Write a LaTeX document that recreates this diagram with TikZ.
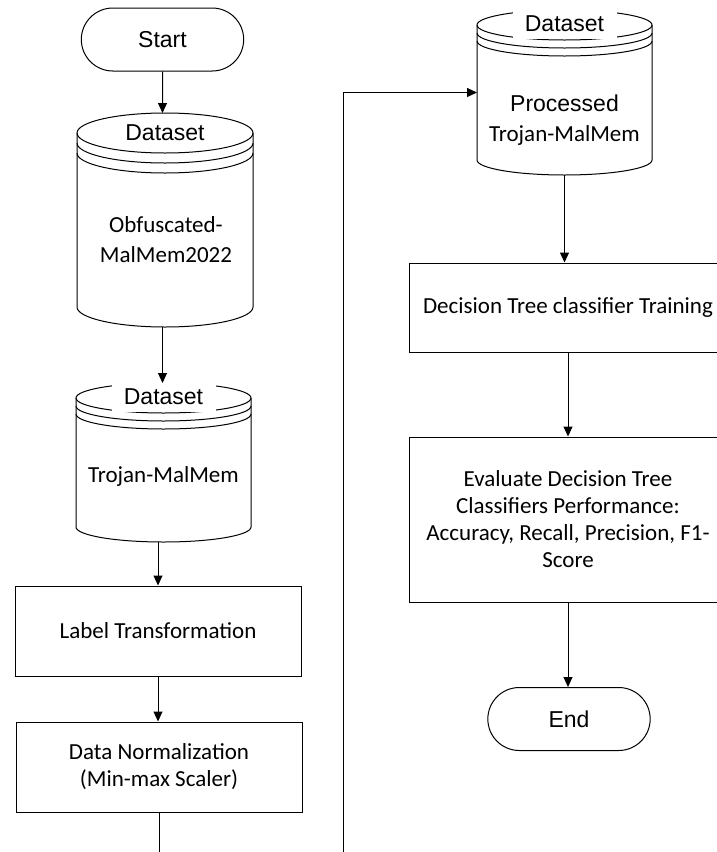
\documentclass[tikz,border=0pt]{standalone}
\usepackage{fontspec}
\setmainfont{Carlito}
\newfontfamily\arialfont{Liberation Sans}
\usetikzlibrary{shapes.misc,arrows.meta,positioning,calc}

\tikzset{
  flowbox/.style={draw, line width=1pt, align=center, inner sep=2pt, font=\fontsize{23}{27}\selectfont},
  termbox/.style={rounded rectangle, draw, line width=1pt, minimum width=169pt, minimum height=63pt, font=\arialfont\fontsize{23}{27}\selectfont},
  dbshape/.style={inner sep=0pt, outer sep=0pt},
  dbtag/.style={font=\arialfont\fontsize{23}{27}\selectfont, inner sep=0pt, minimum width=104pt, minimum height=30pt},
  dbtext/.style={align=center, font=\fontsize{23}{30}\selectfont},
  flowline/.style={line width=1pt, -{Triangle[length=10pt,width=9pt]}},
}

% database cylinder round a named node: node, half width, cap radius, band gap
\newcommand{\dbdraw}[4]{%
  \draw[line width=1pt] ([yshift=-#3]#1.north west) -- ([yshift=#3]#1.south west)
    arc[start angle=180, end angle=360, x radius=#2pt, y radius=#3pt]
    -- ([yshift=-#3]#1.north east)
    arc[start angle=0, end angle=180, x radius=#2pt, y radius=#3pt];
  \draw[line width=1pt] ([yshift=-#3]#1.north west) arc[start angle=180, end angle=360, x radius=#2pt, y radius=#3pt];
  \draw[line width=1pt] ([yshift=-#3-#4]#1.north west) arc[start angle=180, end angle=360, x radius=#2pt, y radius=#3pt];
  \draw[line width=1pt] ([yshift=-#3-2*#4]#1.north west) arc[start angle=180, end angle=360, x radius=#2pt, y radius=#3pt];
}

\begin{document}
\begin{tikzpicture}[x=1pt, y=-1pt]
\useasboundingbox (0,0) rectangle (717,852);
\clip (0,0) rectangle (717,852);

% left column
\node[termbox] (start) at (162.5,39.5) {Start};

\node[dbshape, minimum width=176pt, minimum height=214pt] (obf) at (165,220) {};
\dbdraw{obf}{88}{20}{10}
\node[dbtag] (obftag) at ([yshift=-20]obf.north) {Dataset};
\node[dbtext] (obftxt) at (166,240) {Obfuscated-\\MalMem2022};

\node[dbshape, minimum width=175pt, minimum height=159pt] (troj) at (163.5,462.5) {};
\dbdraw{troj}{87.5}{15}{8}
\node[dbtag, fill=white] (trojtag) at ([yshift=-14]troj.north) {Dataset};
\node[dbtext] (trojtxt) at (163.5,476) {Trojan-MalMem};

\node[flowbox, minimum width=286pt, minimum height=90pt] (labtr) at (158,631) {Label Transformation};
\node[flowbox, minimum width=286pt, minimum height=90pt] (norm) at (159,767) {Data Normalization\\ (Min-max Scaler)};

% right column
\node[dbshape, minimum width=175pt, minimum height=165pt] (proc) at (564.5,92.5) {};
\dbdraw{proc}{87.5}{15}{8}
\node[dbtag, fill=white] (proctag) at ([yshift=-14]proc.north) {Dataset};
\node[dbtext] (proctxt) at (564.5,120) {{\arialfont Processed}\\Trojan-MalMem};

\node[flowbox, minimum width=318pt, minimum height=89pt] (dtree) at (568,307.5) {Decision Tree classifier Training};
\node[flowbox, minimum width=318pt, minimum height=165pt] (evalperf) at (568,519.5)
  {Evaluate Decision Tree\\Classifiers Performance:\\Accuracy, Recall, Precision, F1-\\Score};
\node[termbox] (finish) at (569,719) {End};

% connectors
\draw[flowline] (start) -- (start.south |- obf.north);
\draw[flowline] (start.south |- obf.south) -- (start.south |- troj.north);
\draw[flowline] (labtr.north |- troj.south) -- (labtr.north);
\draw[flowline] (labtr.south) -- (labtr.south |- norm.north);
\draw[flowline] (norm.south) -- ++(0,60) -| ([xshift=-134pt]proc.west) -- (proc.west);
\draw[flowline] (proc.south) -- (proc.south |- dtree.north);
\draw[flowline] (dtree.south) -- (evalperf.north);
\draw[flowline] (evalperf.south) -- (evalperf.south |- finish.north);
\end{tikzpicture}
\end{document}
